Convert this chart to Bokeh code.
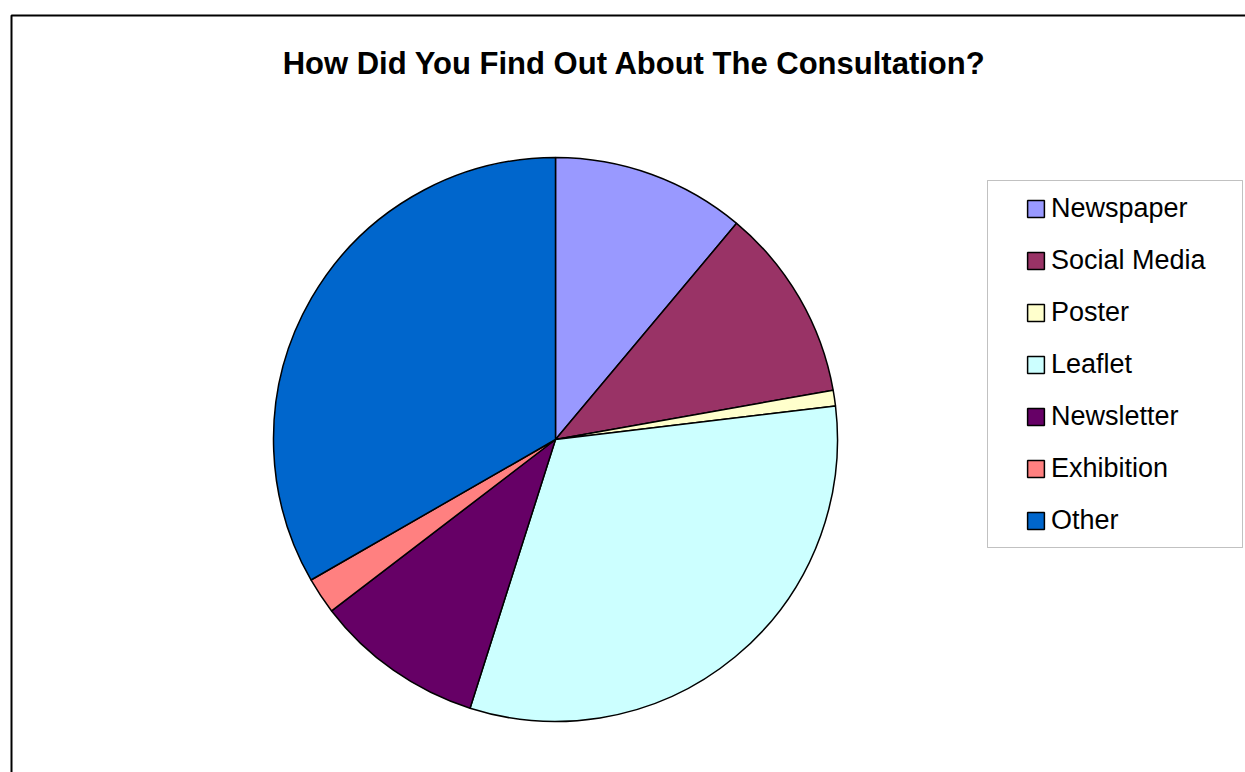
import math
from bokeh.plotting import figure
from bokeh.models import Range1d, Legend, LegendItem, Label, BoxAnnotation, ColumnDataSource
from bokeh.embed import file_html
from bokeh.resources import INLINE

# ---- data ----
categories = ["Newspaper", "Social Media", "Poster", "Leaflet", "Newsletter", "Exhibition", "Other"]
shares = [11.1, 11.1, 0.9, 31.8, 9.7, 2.1, 33.3]
colors = ["#9999FF", "#993366", "#FFFFCC", "#CCFFFF", "#660066", "#FF8080", "#0066CC"]
title_text = "How Did You Find Out About The Consultation?"

# ---- layout (pixel space: 1 data unit = 1 px) ----
W, H = 1245, 772
CX, CY, R = 555, 333, 282

p = figure(width=W, height=H, x_range=Range1d(0, W), y_range=Range1d(0, H),
           output_backend="svg", toolbar_location=None, min_border=0,
           outline_line_color=None, background_fill_color="white",
           border_fill_color="white")
p.axis.visible = False
p.grid.visible = False

# outer chart frame (left and top edges visible in view)
p.line(x=[11, 11, W + 20], y=[-20, 757, 757], line_color="black", line_width=2)

total = sum(shares)
starts, ends = [], []
acc = 0.0
for v in shares:
    starts.append(math.pi / 2 - 2 * math.pi * acc / total)
    acc += v
    ends.append(math.pi / 2 - 2 * math.pi * acc / total)

src = ColumnDataSource(dict(cat=categories, share=shares, color=colors,
                            start=starts, end=ends))
r = p.wedge(x=CX, y=CY, radius=R, start_angle="start", end_angle="end",
            direction="clock", fill_color="color", line_color="black",
            line_width=1.5, source=src)

# legend box
box = BoxAnnotation(left=987, right=1242, top=592, bottom=225,
                    fill_color="white", fill_alpha=1.0,
                    line_color="#333333", line_width=1)
p.add_layout(box)

items = [LegendItem(label=c, renderers=[r], index=i) for i, c in enumerate(categories)]
legend = Legend(items=items, location=(1025, 236), orientation="vertical",
                glyph_width=21, glyph_height=21, label_standoff=5,
                label_height=30, spacing=21, padding=0, margin=0,
                border_line_color=None, background_fill_alpha=0,
                label_text_font="Liberation Sans", label_text_font_size="27px",
                label_text_color="black")
p.add_layout(legend)

title = Label(x=634, y=709, text=title_text, text_align="center",
              text_baseline="alphabetic", text_font="Liberation Sans",
              text_font_style="bold", text_font_size="31px", text_color="black")
p.add_layout(title)

open("out.html", "w").write(file_html(p, INLINE))
